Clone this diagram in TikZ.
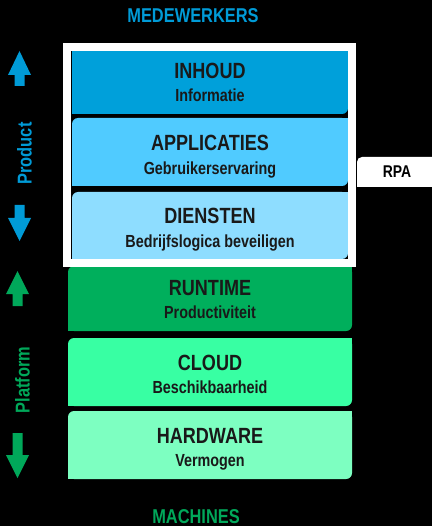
\documentclass[tikz,border=0pt]{standalone}
\usepackage{fontspec}
\setmainfont{Liberation Sans}[FakeStretch=0.82]
\usetikzlibrary{positioning}

\definecolor{productblue}{RGB}{0,155,215}
\definecolor{inhoudblue}{RGB}{0,160,218}
\definecolor{appblue}{RGB}{80,203,255}
\definecolor{dienstblue}{RGB}{142,221,255}
\definecolor{platformgreen}{RGB}{0,168,90}
\definecolor{runtimegreen}{RGB}{0,175,92}
\definecolor{cloudgreen}{RGB}{56,255,163}
\definecolor{hardwaregreen}{RGB}{125,255,193}

\begin{document}
\begin{tikzpicture}[x=1pt,y=-1pt,
	laag/.style={rectangle, rounded corners=6pt, inner sep=0pt},
	titel/.style={anchor=base, text=black!90, font=\bfseries\fontsize{22}{24}\selectfont},
	sub/.style={anchor=base, text=black!90, font=\bfseries\fontsize{17.5}{20}\selectfont},
	kop/.style={anchor=base, font=\bfseries\fontsize{20}{22}\selectfont},
	zij/.style={anchor=base, rotate=90, font=\bfseries\fontsize{20}{22}\selectfont}]
	\fill[black] (0,0) rectangle (432,526);
	\useasboundingbox (0,0) rectangle (432,526);

	% product layers
	\node[laag, fill=inhoudblue, minimum width=276pt, minimum height=63pt] (inhoud) at (210,82.5) {};
	\node[laag, fill=appblue, minimum width=276pt, minimum height=68pt] (app) at (210,152) {};
	\node[laag, fill=dienstblue, minimum width=276pt, minimum height=67pt] (dienst) at (210,225.5) {};
	% platform layers
	\node[laag, fill=runtimegreen, minimum width=284pt, minimum height=65pt] (runtime) at (210,298.5) {};
	\node[laag, fill=cloudgreen, minimum width=284pt, minimum height=68pt] (cloud) at (210,372) {};
	\node[laag, fill=hardwaregreen, minimum width=284pt, minimum height=68pt] (hardware) at (210,445) {};
	% only the top left and bottom right corners stay round
	\foreach \b/\c in {inhoud/inhoudblue, app/appblue, dienst/dienstblue, runtime/runtimegreen, cloud/cloudgreen, hardware/hardwaregreen}{
		\fill[\c] (\b.north east) rectangle ++(-8,8);
		\fill[\c] (\b.south west) rectangle ++(8,-8);
	}
	\fill[inhoudblue] (inhoud.north west) rectangle ++(8,8);

	\draw[white, line width=8pt] (67,47) rectangle (352,263);

	\node[titel] (inhoudT) at (210,79) {INHOUD};
	\node[sub] (inhoudS) at (210,101.5) {Informatie};
	\node[titel] (appT) at (210,150.5) {APPLICATIES};
	\node[sub] (appS) at (210,174.5) {Gebruikerservaring};
	\node[titel] (dienstT) at (210,223) {DIENSTEN};
	\node[sub] (dienstS) at (210,247.5) {Bedrijfslogica beveiligen};
	\node[titel] (runtimeT) at (210,295) {RUNTIME};
	\node[sub] (runtimeS) at (210,318) {Productiviteit};
	\node[titel] (cloudT) at (210,370) {CLOUD};
	\node[sub] (cloudS) at (210,393) {Beschikbaarheid};
	\node[titel] (hardwareT) at (210,443) {HARDWARE};
	\node[sub] (hardwareS) at (210,466) {Vermogen};

	% RPA tab on the right
	\node[rectangle, rounded corners=5pt, fill=white, inner sep=0pt, minimum width=80pt, minimum height=30pt, font=\bfseries\fontsize{17}{19}\selectfont] (rpa) at (397,172) {RPA};
	\fill[white] (rpa.south west) rectangle ++(8,-8);

	\node[kop, text=productblue] (medewerkers) at (193,23) {MEDEWERKERS};
	\node[kop, text=platformgreen] (machines) at (196,523) {MACHINES};

	% side arrows and labels
	\fill[productblue] (19.5,51) -- (31,75) -- (24.5,75) -- (24.5,86) -- (14.5,86) -- (14.5,75) -- (8,75) -- cycle;
	\node[zij, text=productblue] (product) at (31.5,153.5) {Product};
	\fill[productblue] (19.5,241) -- (31,218) -- (24.5,218) -- (24.5,205) -- (14.5,205) -- (14.5,218) -- (8,218) -- cycle;
	\fill[platformgreen] (17.5,271) -- (29,294) -- (22.5,294) -- (22.5,306) -- (12.5,306) -- (12.5,294) -- (6,294) -- cycle;
	\node[zij, text=platformgreen] (platform) at (29.5,380) {Platform};
	\fill[platformgreen] (17.5,478) -- (29,455) -- (22.5,455) -- (22.5,433) -- (12.5,433) -- (12.5,455) -- (6,455) -- cycle;
\end{tikzpicture}
\end{document}
